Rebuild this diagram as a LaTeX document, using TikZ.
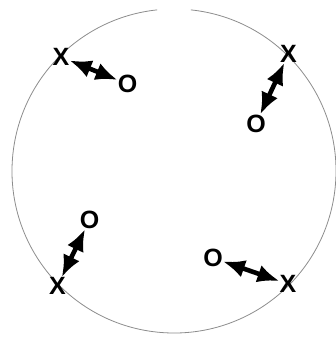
\documentclass[tikz,border=0pt]{standalone}
\usepackage{fontspec}
\setmainfont{Liberation Sans}
\usetikzlibrary{arrows.meta}
\begin{document}
\begin{tikzpicture}[x=1pt,y=-1pt,
  lbl/.style={font=\fontsize{25}{25}\selectfont\bfseries, inner sep=0pt},
  dbl/.style={line width=4.6pt, arrows={Latex[length=22pt,width=18pt]-Latex[length=22pt,width=18pt]}},
  rim/.style={draw=black!45, line width=0.8pt}]
\useasboundingbox (0,0) rectangle (335,339);
\draw[rim] (174,171) ++(-84:162) arc[start angle=-84, end angle=264, radius=162];
\node[lbl] (x1) at (61,57) {X};
\node[lbl] (o1) at (127.5,84) {O};
\node[lbl] (x2) at (288.5,54) {X};
\node[lbl] (o2) at (256,123.5) {O};
\node[lbl] (o3) at (89.5,220) {O};
\node[lbl] (x3) at (57.5,286) {X};
\node[lbl] (o4) at (213,258) {O};
\node[lbl] (x4) at (288,284) {X};
\draw[dbl] (x1) -- (o1);
\draw[dbl] (x2) -- (o2);
\draw[dbl] (o3) -- (x3);
\draw[dbl] (o4) -- (x4);
\end{tikzpicture}
\end{document}
